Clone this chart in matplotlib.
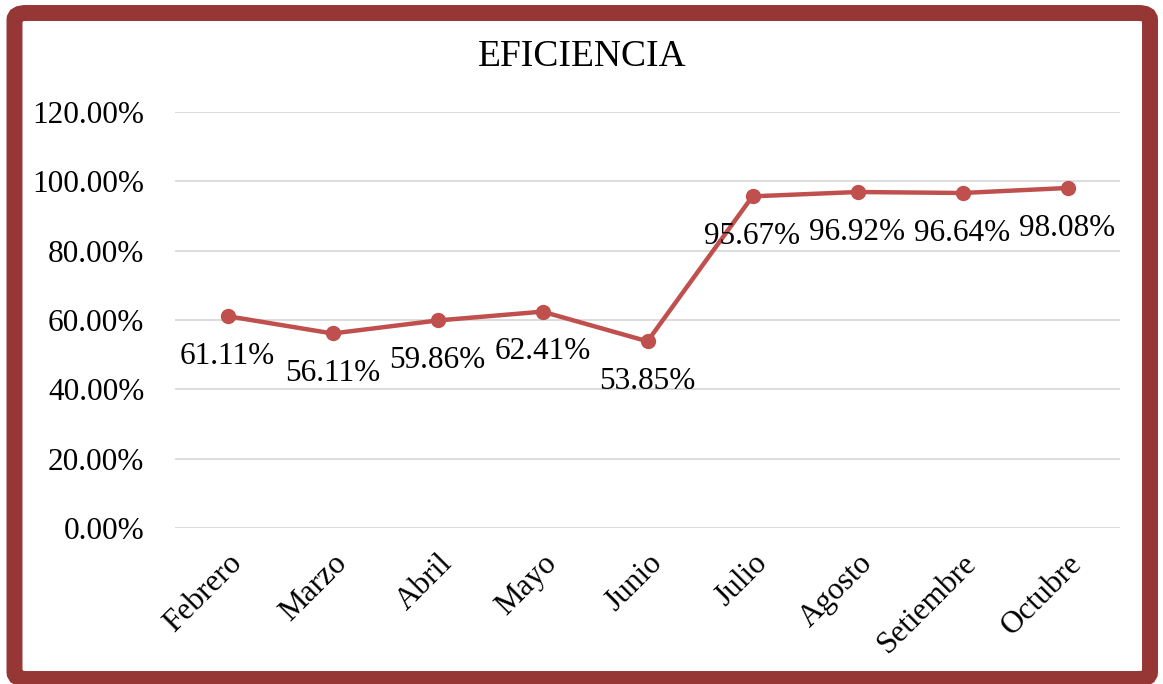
import matplotlib
matplotlib.use("Agg")
import matplotlib.pyplot as plt
from matplotlib.patches import FancyBboxPatch
from matplotlib import ticker

# data
meses = ["Febrero", "Marzo", "Abril", "Mayo", "Junio", "Julio", "Agosto", "Setiembre", "Octubre"]
eficiencia = [61.11, 56.11, 59.86, 62.41, 53.85, 95.67, 96.92, 96.64, 98.08]
yticks = [0, 20, 40, 60, 80, 100, 120]

plt.rcParams['font.family'] = ['Liberation Serif', 'DejaVu Serif']

W, H = 1163, 684
fig = plt.figure(figsize=(W / 100, H / 100), dpi=100)

# marco redondeado
frame = FancyBboxPatch((14.5 / W, 5 / H), (1150 - 14.5) / W, (671 - 5) / H,
                       boxstyle="round,pad=0,rounding_size=0.010",
                       transform=fig.transFigure, facecolor="white",
                       edgecolor="#963736", linewidth=11.5, zorder=-1)
fig.patches.append(frame)

ax = fig.add_axes([175 / W, 156 / H, (1120 - 175) / W, (572 - 156) / H])
ax.set_facecolor("none")
x = list(range(len(meses)))
ax.plot(x, eficiencia, color="#C0504D", linewidth=3.2, marker="o",
        markersize=10, zorder=3, clip_on=False)

for xi, v in zip(x, eficiencia):
    ax.annotate(f"{v:.2f}%", (xi, v), xytext=(0, -29), textcoords="offset points",
                ha="center", va="center", fontsize=22.5, zorder=4)

ax.set_xlim(-0.5, len(meses) - 0.5)
ax.set_ylim(0, 120)
ax.set_yticks(yticks)
ax.yaxis.set_major_formatter(ticker.FuncFormatter(lambda v, p: f"{v:.2f}%"))
ax.grid(axis="y", color="#D9D9D9", linewidth=1.3)
ax.set_axisbelow(True)
for s in ax.spines.values():
    s.set_visible(False)
ax.tick_params(axis="both", length=0, labelsize=22.5)
ax.tick_params(axis="y", pad=22)
ax.set_xticks(x)
ax.set_xticklabels(meses, rotation=45, ha="right", rotation_mode="anchor")
ax.tick_params(axis="x", pad=15)

fig.text(582 / W, 1 - 57 / H, "EFICIENCIA", ha="center", va="center", fontsize=27)

fig.savefig("out.png", dpi=100)
